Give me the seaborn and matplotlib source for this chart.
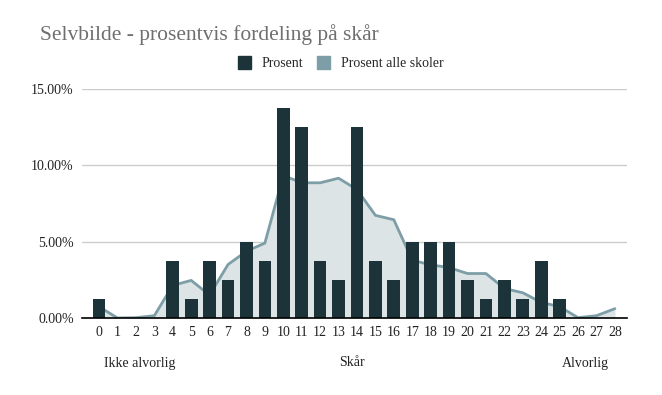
import numpy as np
import pandas as pd
import matplotlib.pyplot as plt
import seaborn as sns
from matplotlib.patches import Patch
from matplotlib.ticker import FuncFormatter

# data (share of students per score, this school and all schools, in %)
scores = list(range(29))
prosent = [1.25, 0, 0, 0, 3.75, 1.25, 3.75, 2.5, 5.0, 3.75,
           13.75, 12.5, 3.75, 2.5, 12.5, 3.75, 2.5, 5.0, 5.0, 5.0,
           2.5, 1.25, 2.5, 1.25, 3.75, 1.25, 0, 0, 0]
prosent_alle = [0.74, 0.0, 0.02, 0.15, 2.13, 2.46, 1.5, 3.5, 4.37, 4.9,
                9.33, 8.85, 8.85, 9.15, 8.41, 6.72, 6.43, 3.78, 3.48, 3.3,
                2.91, 2.91, 1.93, 1.65, 1.02, 0.74, 0.02, 0.15, 0.61]

bar_color = '#1c333a'
line_color = '#7d9ea6'
fill_color = '#dce4e6'

df = pd.DataFrame({'Skår': scores, 'Prosent': prosent, 'Prosent alle skoler': prosent_alle})

sns.set_theme(style="white")
plt.rcParams['font.family'] = ['Liberation Serif', 'DejaVu Serif']

fig = plt.figure(figsize=(6.62, 3.95), dpi=100)
ax = fig.add_axes([0.124, 0.195, 0.823, 0.58])

# area + line for all schools (drawn behind bars)
ax.fill_between(df['Skår'], df['Prosent alle skoler'], color=fill_color, zorder=1, lw=0)
sns.lineplot(data=df, x='Skår', y='Prosent alle skoler', color=line_color, lw=2, ax=ax, zorder=2)
sns.barplot(data=df, x='Skår', y='Prosent', color=bar_color, width=0.69, ax=ax, zorder=3,
            saturation=1, linewidth=0)

ax.set_ylim(0, 15)
ax.set_xlim(-0.92, 28.65)
ax.set_yticks([0, 5, 10, 15])
ax.yaxis.set_major_formatter(FuncFormatter(lambda v, p: f'{v:.2f}%'))
ax.set_xticks(scores)
ax.set_xticklabels([str(s) for s in scores])
ax.grid(axis='y', color='#cccccc', lw=1)
ax.set_axisbelow(True)
for s in ['left', 'right', 'top']:
    ax.spines[s].set_visible(False)
ax.spines['bottom'].set_color('black')
ax.spines['bottom'].set_linewidth(1.2)
ax.spines['bottom'].set_zorder(5)
ax.tick_params(axis='both', length=0, labelsize=10, colors='#222222', pad=6)
ax.set_xlabel('')
ax.set_ylabel('')

fig.text(40 / 662, 1 - 35 / 395, 'Selvbilde - prosentvis fordeling på skår',
         fontsize=15.5, color='#6f6f6f', va='center', ha='left')

handles = [Patch(color=bar_color, label='Prosent'), Patch(color=line_color, label='Prosent alle skoler')]
fig.legend(handles=handles, loc='center', bbox_to_anchor=(0.515, 1 - 63 / 395), ncol=2,
           frameon=False, fontsize=10, handlelength=0.9, handleheight=1.1, columnspacing=1.0,
           handletextpad=0.8)

fig.text(140 / 662, 1 - 363 / 395, 'Ikke alvorlig', fontsize=10, ha='center', va='center', color='#222222')
fig.text(352 / 662, 1 - 363 / 395, 'Skår', fontsize=10, ha='center', va='center', color='#222222')
fig.text(585 / 662, 1 - 363 / 395, 'Alvorlig', fontsize=10, ha='center', va='center', color='#222222')

plt.savefig('out.png', dpi=100)
plt.close()
